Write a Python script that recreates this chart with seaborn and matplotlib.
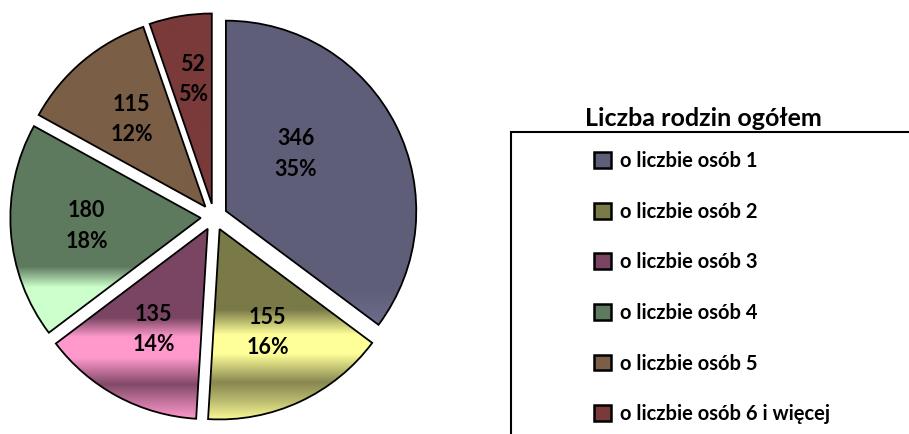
import numpy as np
import matplotlib
matplotlib.use("Agg")
import matplotlib.pyplot as plt
import matplotlib.colors as mcolors
from matplotlib.patches import Patch, Rectangle
import seaborn as sns

# data
categories = ["o liczbie osób 1", "o liczbie osób 2", "o liczbie osób 3",
              "o liczbie osób 4", "o liczbie osób 5", "o liczbie osób 6 i więcej"]
values = [346, 155, 135, 180, 115, 52]
legend_title = "Liczba rodzin ogółem"

# colours: dark base + light band colour, gradient stops (fraction from top, mix)
dark = ["#5e5e79", "#7a7a48", "#7a4562", "#5e7a5e", "#7a5e45", "#7a3a3a"]
light = ["#9a9ac8", "#ffff99", "#ff99cc", "#ccffcc", "#ffcc99", "#ff9999"]
stops = [
    [(0, 0), (0.88, 0), (1, 0.25)],
    [(0, 0), (0.42, 0), (0.55, 1), (0.65, 1), (0.8, 0.1), (0.9, 0.5), (1, 1)],
    [(0, 0), (0.47, 0), (0.57, 1), (0.68, 1), (0.82, 0.05), (0.9, 0.5), (1, 1)],
    [(0, 0), (0.68, 0), (0.78, 1), (1, 1)],
    [(0, 0), (1, 0)],
    [(0, 0), (1, 0)],
]

sns.set_theme(style="white")
plt.rcParams["font.family"] = ["Lato", "DejaVu Sans"]
plt.rcParams["text.color"] = "black"

fig = plt.figure(figsize=(9.09, 4.34), dpi=100)
ax = fig.add_axes([-0.0033, 0.0, 434 / 909, 1.0])

total = sum(values)
wedges, texts, autotexts = ax.pie(
    values,
    startangle=90,
    counterclock=False,
    explode=[0.07] * len(values),
    colors=dark,
    autopct=lambda p: f"{round(p * total / 100)}\n{p:.0f}%",
    pctdistance=0.6,
    wedgeprops=dict(edgecolor="black", linewidth=1.3),
    textprops=dict(fontsize=15.5, fontweight="bold", color="black", linespacing=1.55),
)

# gradient fills clipped to each wedge
for w, d, l, st in zip(wedges, dark, light, stops):
    verts = w.get_path().vertices
    x0, y0 = verts.min(axis=0)
    x1, y1 = verts.max(axis=0)
    fr = np.linspace(0, 1, 300)
    mix = np.interp(fr, [s[0] for s in st], [s[1] for s in st])
    dc = np.array(mcolors.to_rgb(d))
    lc = np.array(mcolors.to_rgb(l))
    img = dc[None, :] * (1 - mix[:, None]) + lc[None, :] * mix[:, None]
    im = ax.imshow(img[:, None, :], extent=(x0, x1, y0, y1), origin="upper",
                   aspect="auto", interpolation="bilinear", zorder=1)
    im.set_clip_path(w)
    w.set_facecolor("none")
    w.set_zorder(2)
for t in autotexts:
    t.set_zorder(3)

# the big slice's label sits a bit higher than its bisector in the original
x, y = autotexts[0].get_position()
autotexts[0].set_position((x - 0.17, y + 0.03))
x, y = autotexts[5].get_position()
autotexts[5].set_position((x, y + 0.06))

ax.set_aspect("equal")
ax.set_xlim(-1.14, 1.14)
ax.set_ylim(-1.14, 1.14)
ax.axis("off")

# legend
handles = [Patch(facecolor=c, edgecolor="black", linewidth=1.8) for c in dark]
fig.legend(handles, categories, loc="upper left",
           bbox_to_anchor=(584 / 909, 1 - 141 / 434),
           frameon=False, borderpad=0, handlelength=0.82, handleheight=0.82,
           handletextpad=0.45, labelspacing=1.52, labelcolor="black",
           prop=dict(family="Lato", weight="bold", size=14.5))
fig.text(703 / 909, 1 - 119 / 434, legend_title, ha="center", va="center",
         fontsize=18, fontweight="bold", color="black")
fig.patches.append(Rectangle((511 / 909, -0.1), 1.0, 0.1 + (434 - 132) / 434,
                             transform=fig.transFigure, fill=False,
                             edgecolor="black", linewidth=1.5))

fig.savefig("out.png", dpi=100, facecolor="white")
